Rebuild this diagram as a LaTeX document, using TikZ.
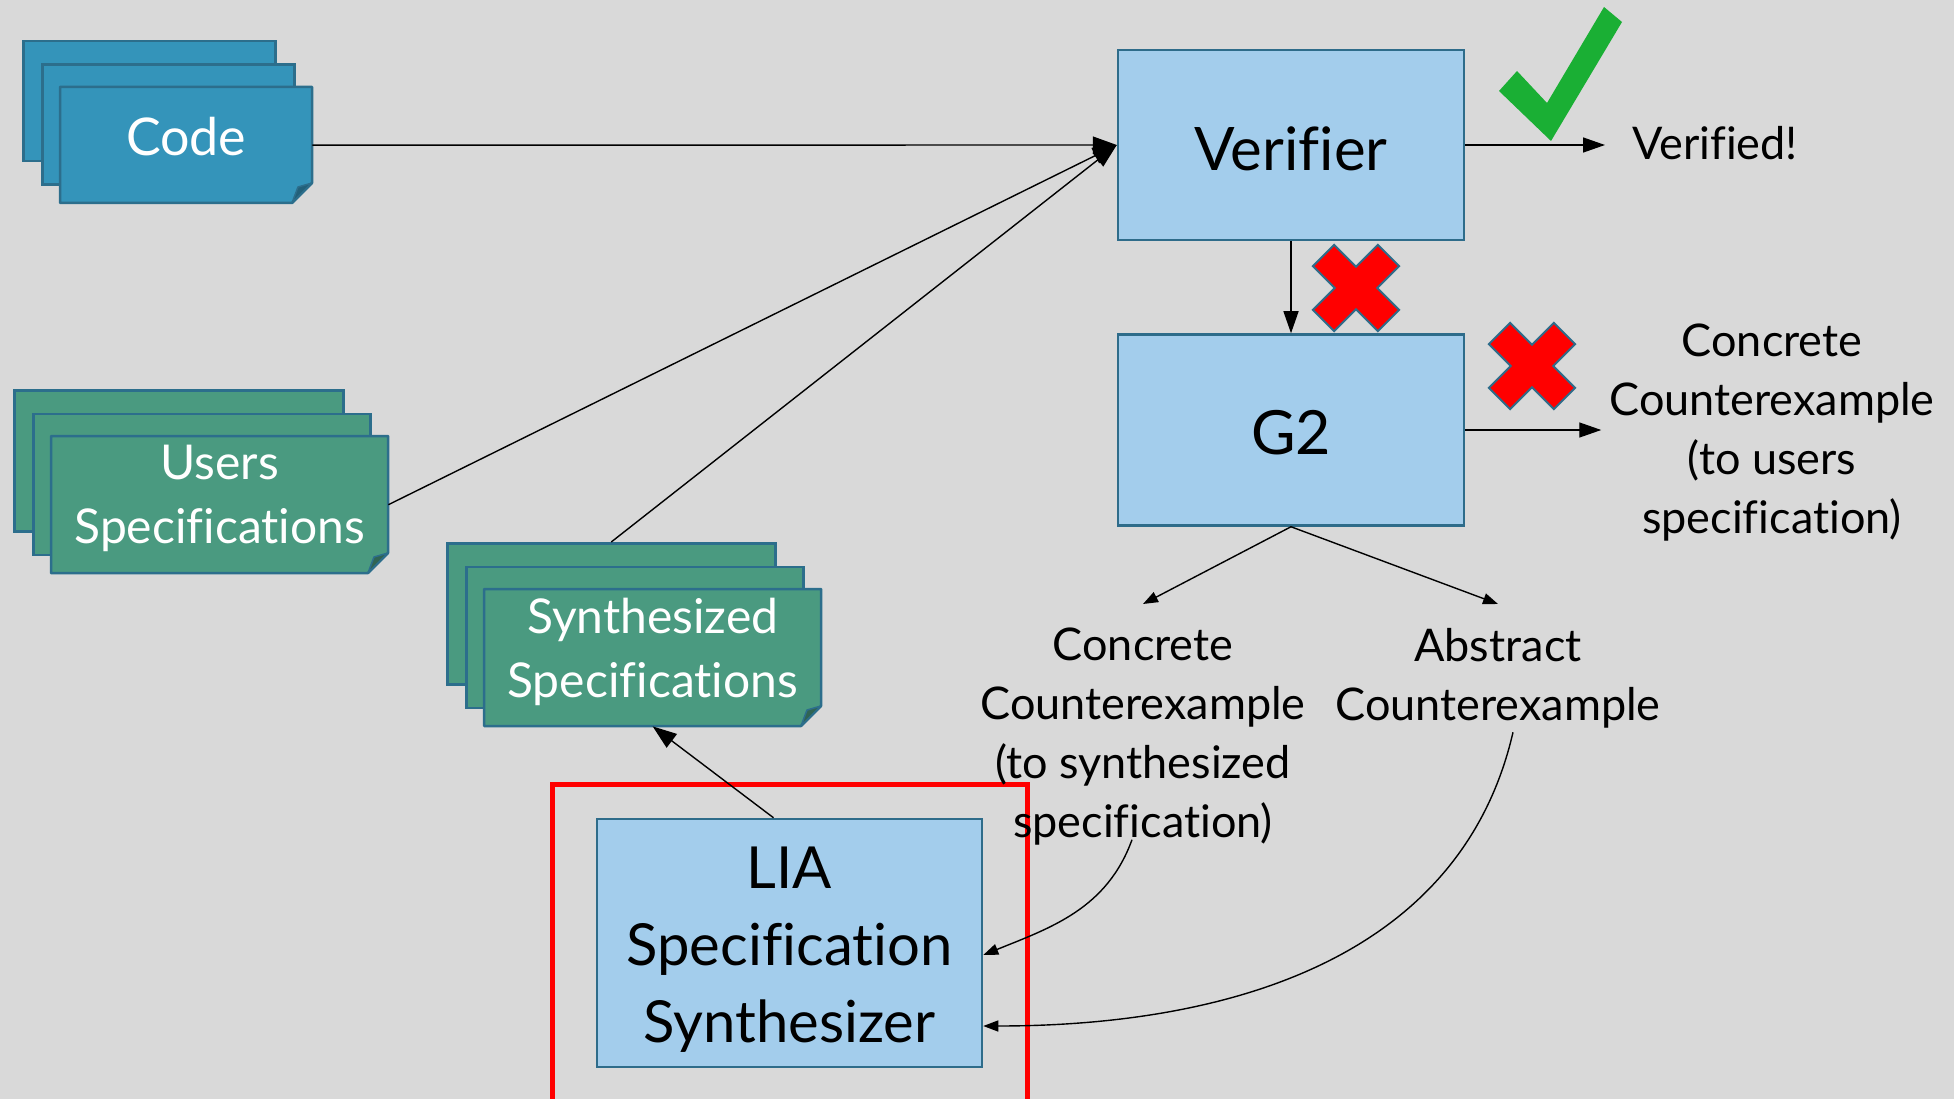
\documentclass[tikz,border=0pt]{standalone}
\usepackage{fontspec}
\setmainfont{Lato}[Ligatures=NoCommon]
\usetikzlibrary{arrows.meta}

\definecolor{bg}{HTML}{D9D9D9}
\definecolor{codeblue}{HTML}{3494BA}
\definecolor{specgreen}{HTML}{4A9A80}
\definecolor{sheetline}{HTML}{2C6E8C}
\definecolor{boxblue}{HTML}{A3CDEC}
\definecolor{boxline}{HTML}{2E6C8A}
\definecolor{xred}{HTML}{FF0000}
\definecolor{checkgreen}{HTML}{1AAF34}

\tikzset{
  sheet/.style={draw=sheetline, line width=2.5pt, inner sep=0pt},
  stacktext/.style={text=white, align=center, inner sep=0pt,
    font=\fontsize{48}{64}\selectfont},
  procbox/.style={draw=boxline, fill=boxblue, line width=2.5pt, inner sep=0pt},
  boxtext/.style={align=center, inner sep=0pt},
  lbl/.style={align=center, inner sep=0pt, font=\fontsize{45}{59}\selectfont},
  link/.style={line width=1.4pt},
  bigtip/.style={link, -{Triangle[length=24pt,width=17pt]}},
  midtip/.style={link, -{Triangle[length=22pt,width=15pt]}},
  smalltip/.style={link, -{Triangle[length=15pt,width=11pt]}},
  redx/.pic={
    \filldraw[fill=xred, draw=boxline, line width=2pt, line join=miter]
      (15,15) -- (15,46) -- (-15,46) -- (-15,15) -- (-46,15) -- (-46,-15)
      -- (-15,-15) -- (-15,-46) -- (15,-46) -- (15,-15) -- (46,-15)
      -- (46,15) -- cycle;
  },
}

% A stack of three sheets; the front one has a folded lower-right corner.
% #1 text options, #2 name, #3/#4 top-left of the back sheet,
% #5/#6 size of the two upper sheets, #7 fill colour, #8 text,
% #9 width of the back sheet
\newcommand{\docstack}[9][]{%
  \node[sheet, fill=#7, anchor=north west, minimum width=#9pt,
    minimum height={#6+4pt}] (#2-back) at (#3,#4) {};
  \node[sheet, fill=#7, anchor=north west, minimum width=#5pt,
    minimum height={#6+4pt}] (#2-mid) at ({#3+19},{#4+23.5}) {};
  \filldraw[fill=#7, draw=sheetline, line width=2.5pt, line join=round]
    ({#3+38},{#4+47}) -- ++(#5,0) -- ++(0,{#6-20}) -- ++(-20,20)
    -- ++({20-#5},0) -- cycle;
  \filldraw[fill=#7!65!black, draw=sheetline, line width=1.5pt, line join=round]
    ({#3+38+#5},{#4+47+#6-20}) -- ++(-14,4) -- ++(-6,16) -- cycle;
  \node[inner sep=0pt, anchor=north west, minimum width=#5pt,
    minimum height=#6pt] (#2-front) at ({#3+38},{#4+47}) {};
  \node[stacktext, #1] (#2) at (#2-front.center) {#8};
}

\begin{document}
\begin{tikzpicture}[x=1pt, y=-1pt]
  \fill[bg] (0,0) rectangle (1954,1099);
  \useasboundingbox (0,0) rectangle (1954,1099);

  % input documents
  \docstack[font=\fontsize{52}{62}\selectfont, yshift=9pt]{code}{22}{40}{252}{116}{codeblue}{Code}{252}
  \docstack[yshift=6pt]{users}{13}{389}{337}{137}{specgreen}{Users\\Specifications}{329}
  \docstack[yshift=6pt]{synth}{446}{542}{337}{137}{specgreen}{Synthesized\\Specifications}{328}

  % processing boxes and their captions
  \node[procbox, minimum width=346pt, minimum height=190pt] (verifier) at (1291,145) {};
  \node[boxtext, font=\fontsize{60}{74}\selectfont, yshift=-4pt]
    (verifier-text) at (verifier.center) {Verifier};
  \node[procbox, minimum width=346pt, minimum height=191pt] (g2) at (1291,430) {};
  \node[boxtext, font=\fontsize{61}{74}\selectfont, yshift=-3pt]
    (g2-text) at (g2.center) {G2};
  \node[procbox, minimum width=385pt, minimum height=248pt] (lia) at (789.5,943) {};
  \node[boxtext, font=\fontsize{58}{77}\selectfont, yshift=-7pt]
    (lia-text) at (lia.center) {LIA\\Specification\\Synthesizer};

  % highlight frame around the synthesizer
  \draw[xred, line width=5pt] (552,784) rectangle (1027,1104);

  % outcome labels
  \node[lbl, anchor=west] (verified) at (1632,143) {Verified!};
  \node[lbl] (cceusers) at (1772,433)
    {Concrete\\Counterexample\\(to users\\specification)};
  \node[lbl, anchor=north] (ccesynth) at (1143,628)
    {Concrete\\Counterexample\\(to synthesized\\specification)};
  \node[lbl, anchor=north] (ace) at (1498,628) {Abstract\\Counterexample};

  % markers
  \fill[checkgreen] (1499,91) -- (1517,71) -- (1547,103) -- (1604,7)
    -- (1622,22) -- (1551,141) -- cycle;
  \pic[rotate=45] at (1356,288) {redx};
  \pic[rotate=45] at (1532,366) {redx};

  % connectors
  \draw[bigtip] (code-front.east) -- (verifier.west);
  \draw[bigtip] (users-front.east) -- (verifier.west);
  \draw[bigtip] (synth-back.north) -- (verifier.west);
  \draw[midtip] (verifier.south) -- (g2.north);
  \draw[midtip, shorten >=27pt] (verifier.east) -- (verifier.east -| verified.west);
  \draw[midtip, shorten >=8pt] (g2.east) -- (g2.east -| cceusers.west);
  \draw[smalltip] (g2.south) -- ([yshift=24pt]ccesynth.north);
  \draw[smalltip] (g2.south) -- ([yshift=24pt]ace.north);
  \draw[bigtip] ([xshift=-16pt]lia.north) -- (synth-front.south);
  \draw[smalltip] ([xshift=-11pt,yshift=6pt]ccesynth.south)
    to[out=-110, in=22] ([yshift=-12pt]lia.east);
  \draw[smalltip] ([xshift=15pt,yshift=-4pt]ace.south)
    to[out=-103, in=0] ([yshift=-83pt]lia.east);
\end{tikzpicture}
\end{document}
